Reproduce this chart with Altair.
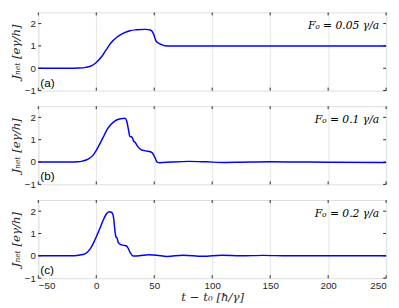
import altair as alt
import pandas as pd

# ---------------- data ----------------
t_a = [-50, -23, -15, -9.3, -3.8, 0, 4.4, 8.5, 12.6, 18, 23.5, 29, 34.4, 42.6, 46.7,
       49.4, 51.4, 53.5, 56.3, 59, 65, 100, 150, 200, 250]
j_a = [0, 0, 0.01, 0.04, 0.12, 0.26, 0.5, 0.82, 1.13, 1.40, 1.57, 1.68, 1.72, 1.74, 1.71,
       1.54, 1.24, 1.13, 1.06, 1.01, 1.0, 1.0, 1.0, 1.0, 1.0]

t_b = [-50, -23, -16, -12, -6.6, -2.5, 1.6, 5.7, 9.8, 15.3, 20.8, 24.9, 26.2, 27.6, 29,
       30.9, 32.2, 33.6, 35.8, 38.5, 42.6, 46.7, 48.6, 50.8, 52.5, 54.9, 64.5, 80, 95,
       110, 125, 150, 175, 200, 250]
j_b = [0, 0, 0.01, 0.04, 0.14, 0.32, 0.67, 1.08, 1.5, 1.81, 1.94, 1.96, 1.85, 1.5, 1.15,
       1.11, 0.94, 0.875, 0.69, 0.56, 0.5, 0.46, 0.39, 0.18, 0.0, -0.03, 0.0, 0.03, 0.01,
       -0.02, -0.01, 0.01, 0.0, -0.01, -0.02]

t_c = [-50, -23, -14.8, -9.3, -5.2, -1.1, 3, 5.7, 8.5, 11.2, 13.4, 14.8, 15.8, 16.9, 18,
       18.9, 20.8, 23.5, 26.2, 27.6, 29.5, 31.7, 37.1, 45, 52, 61, 75, 92, 108, 125, 144,
       165, 200, 250]
j_c = [0, 0, 0.03, 0.1, 0.31, 0.72, 1.21, 1.56, 1.86, 1.97, 1.94, 1.76, 1.28, 0.86, 0.79,
       0.61, 0.51, 0.47, 0.44, 0.33, 0.125, -0.01, 0.0, 0.05, 0.03, -0.03, 0.03, -0.02,
       0.03, 0.0, 0.02, 0.0, 0.0, 0.0]

x_ticks = [-50, 0, 50, 100, 150, 200, 250]
y_ticks = [-1, 0, 1, 2]
panel_tags = ["(a)", "(b)", "(c)"]
force_labels = ["F₀ = 0.05 γ/a", "F₀ = 0.1 γ/a", "F₀ = 0.2 γ/a"]

W, H = 356, 80
SANS = "Liberation Sans"
SERIF = "DejaVu Serif"
DARK = "#262626"
YTITLE = "Jₙₑₜ [eγ/h]"

xtick_df = pd.DataFrame({"t": x_ticks})
ytick_df = pd.DataFrame({"J": y_ticks})


def panel(ts, js, tag, flabel, bottom):
    df = pd.DataFrame({"t": ts, "J": js})
    xscale = alt.Scale(domain=[-50, 250], nice=False, zero=False)
    yscale = alt.Scale(domain=[-1, 2.5], nice=False, zero=False)
    xaxis = alt.Axis(values=x_ticks, grid=True, gridColor="#e3e3e3", gridWidth=1,
                     ticks=False, domain=False, labels=bottom, labelFont=SANS,
                     labelFontSize=10, labelColor=DARK, labelPadding=3,
                     labelOverlap=False,
                     titleFont=SERIF, titleFontStyle="italic", titleFontWeight="normal",
                     titleFontSize=12, titleColor=DARK, titlePadding=1)
    yaxis = alt.Axis(values=y_ticks, grid=False, ticks=False, domain=False,
                     labelFont=SANS, labelFontSize=10, labelColor=DARK, labelPadding=3,
                     labelOverlap=False, labelFlush=False,
                     titleFont=SERIF, titleFontStyle="italic", titleFontWeight="normal",
                     titleFontSize=12, titleColor=DARK, titlePadding=2)
    xtitle = "t − t₀ [ħ/γ]" if bottom else None
    X = alt.X("t:Q", scale=xscale, axis=xaxis, title=xtitle)
    Y = alt.Y("J:Q", scale=yscale, axis=yaxis, title=YTITLE)
    line = alt.Chart(df).mark_line(color="#0000ff", strokeWidth=1.5,
                                   interpolate="monotone").encode(x=X, y=Y)
    xt_bot = alt.Chart(xtick_df).mark_rule(color=DARK, strokeWidth=1).encode(
        x=X, y=alt.value(H), y2=alt.value(H - 3))
    xt_top = alt.Chart(xtick_df).mark_rule(color=DARK, strokeWidth=1).encode(
        x=X, y=alt.value(0), y2=alt.value(3))
    yt_left = alt.Chart(ytick_df).mark_rule(color=DARK, strokeWidth=1).encode(
        y=Y, x=alt.value(0), x2=alt.value(3))
    yt_right = alt.Chart(ytick_df).mark_rule(color=DARK, strokeWidth=1).encode(
        y=Y, x=alt.value(W - 3), x2=alt.value(W))
    tag_txt = alt.Chart(pd.DataFrame({"s": [tag]})).mark_text(
        font=SANS, fontSize=12, color="#000000", align="left", baseline="alphabetic"
    ).encode(text="s:N", x=alt.value(2), y=alt.value(H - 4))
    f_txt = alt.Chart(pd.DataFrame({"s": [flabel]})).mark_text(
        font=SERIF, fontStyle="italic", fontSize=11, color="#000000", align="right",
        baseline="alphabetic"
    ).encode(text="s:N", x=alt.value(W - 7), y=alt.value(17))
    return alt.layer(line, xt_bot, xt_top, yt_left, yt_right, tag_txt, f_txt).properties(
        width=W, height=H)


chart = alt.vconcat(
    panel(t_a, j_a, panel_tags[0], force_labels[0], False),
    panel(t_b, j_b, panel_tags[1], force_labels[1], False),
    panel(t_c, j_c, panel_tags[2], force_labels[2], True),
    spacing=9,
).properties(
    padding={"left": 1, "top": 0, "right": 1, "bottom": 0}
).configure_view(
    stroke=DARK, strokeWidth=1
).configure(background="white")

chart.save("out.html", embed_options={"renderer": "svg", "actions": False})
